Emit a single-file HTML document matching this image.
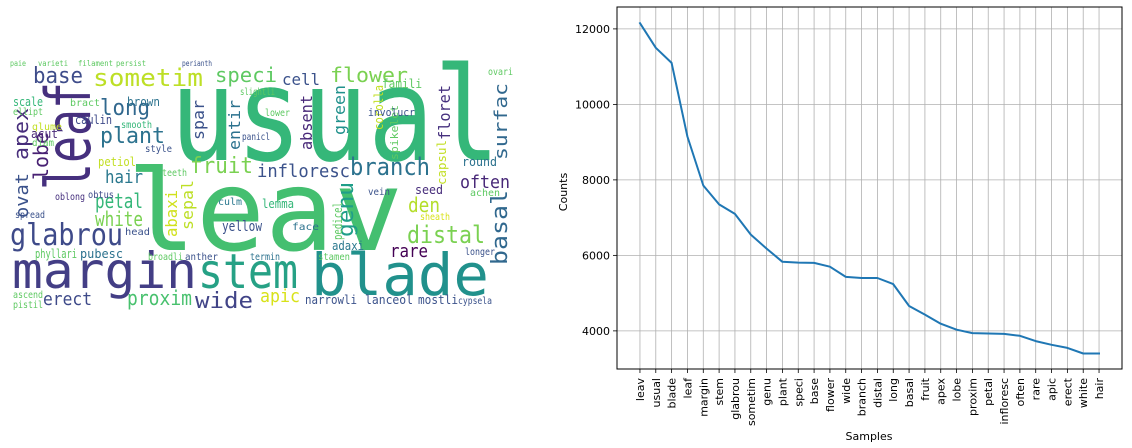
<!DOCTYPE html>
<html><head><meta charset="utf-8"><style>
html,body{margin:0;padding:0;background:#fff;width:1132px;height:448px;overflow:hidden}
svg{display:block}
.wc text{font-family:"DejaVu Sans Mono","Liberation Mono",monospace}
.ax text{font-family:"DejaVu Sans","Liberation Sans",sans-serif;font-size:11px;fill:#000}
</style></head><body>
<svg id="root" width="1132" height="448" viewBox="0 0 1132 448">
<g class="wc" id="wordcloud"></g>
<g class="ax" id="chart"></g>
</svg>
<script>
// ---- line chart data ----
const categories = ["leav","usual","blade","leaf","margin","stem","glabrou","sometim","genu","plant","speci","base","flower","wide","branch","distal","long","basal","fruit","apex","lobe","proxim","petal","infloresc","often","rare","apic","erect","white","hair"];
const counts = [12150,11500,11100,9150,7850,7350,7100,6550,6180,5830,5810,5800,5700,5430,5400,5400,5240,4660,4430,4190,4030,3940,3930,3920,3870,3730,3630,3550,3400,3400];
const yTicks = [4000,6000,8000,10000,12000];
const yTickLabels = ["4000","6000","8000","10000","12000"];

// ---- word cloud data: [word, x, y, fontSize, color, rotated, length] ----
const words = [
["usual",170,160,130,"#35b779",0,330],
["leav",127,250,112,"#44bf70",0,276],
["margin",12,288,50,"#433e85",0,185],
["stem",198,288,48,"#26a185",0,100],
["blade",311,295,58,"#21918c",0,178],
["leaf",90,190,62,"#46307e",1,108],
["glabrou",10,245,30,"#3e4a89",0,113],
["base",33,83,22,"#3e4c8a",0,50],
["sometim",93,86,24,"#bddf26",0,110],
["speci",215,82,20,"#5ec962",0,62],
["cell",282,85,16,"#3b528b",0,38],
["flower",330,82,20,"#7ad151",0,78],
["long",100,115,22,"#31688e",0,50],
["plant",100,143,22,"#2c728e",0,65],
["apex",28,160,20,"#472d7b",1,52],
["lobe",48,180,20,"#482173",1,48],
["ovat",28,218,18,"#3b528b",1,45],
["fruit",190,173,22,"#7ad151",0,63],
["infloresc",257,177,18,"#3b528b",0,93],
["branch",350,175,24,"#2c728e",0,80],
["hair",105,183,18,"#2a788e",0,38],
["petal",95,208,20,"#35b779",0,48],
["white",95,226,20,"#7ad151",0,48],
["distal",407,243,24,"#7ad151",0,78],
["genu",353,237,22,"#1f9e89",1,55],
["basal",507,265,22,"#31688e",1,75],
["surfac",507,160,18,"#31688e",1,77],
["often",460,188,18,"#482878",0,50],
["rare",390,257,18,"#440154",0,38],
["den",408,212,20,"#b5de2b",0,32],
["erect",43,305,18,"#3e4a89",0,49],
["proxim",127,305,20,"#48c16e",0,65],
["wide",195,308,22,"#414487",0,58],
["apic",260,302,18,"#d8e219",0,40],
["abaxi",177,237,16,"#d0e11c",1,47],
["sepal",193,230,16,"#bddf26",1,50],
["spar",204,140,16,"#3b528b",1,40],
["entir",240,150,16,"#2c728e",1,50],
["absent",312,150,16,"#482878",1,55],
["green",345,135,16,"#21918c",1,50],
["floret",450,140,16,"#46307e",1,55],
["capsul",446,185,12,"#c2df23",1,45],
["corolla",383,130,12,"#c2df23",1,45],
["spikelet",398,160,11,"#5ec962",1,55],
["famili",382,88,12,"#5ec962",0,40],
["involucr",368,116,11,"#3b528b",0,47],
["scale",13,106,12,"#35b779",0,30],
["brown",127,106,12,"#2c728e",0,33],
["bract",70,106,10,"#5ec962",0,30],
["ellipt",13,115,10,"#5ec962",0,30],
["caulin",75,124,12,"#3e4a89",0,37],
["glume",32,130,10,"#c2df23",0,30],
["acut",31,138,12,"#482878",0,27],
["smooth",121,128,10,"#35b779",0,31],
["diam",32,146,10,"#5ec962",0,22],
["style",145,152,10,"#3b528b",0,27],
["petiol",98,166,12,"#c2df23",0,38],
["oblong",55,200,10,"#46307e",0,30],
["obtus",88,198,10,"#3e4a89",0,26],
["teeth",162,176,10,"#5ec962",0,25],
["spread",15,218,10,"#3b528b",0,30],
["lemma",262,208,12,"#35b779",0,32],
["yellow",222,231,14,"#3b528b",0,40],
["pedicel",342,240,12,"#5ec962",1,38],
["adaxi",332,250,12,"#2a788e",0,32],
["phyllari",35,258,12,"#5ec962",0,42],
["pubesc",80,258,12,"#2c728e",0,43],
["broadli",148,260,10,"#5ec962",0,35],
["anther",185,260,10,"#3b528b",0,33],
["termin",250,260,10,"#2c728e",0,30],
["stamen",318,260,10,"#5ec962",0,32],
["narrowli",305,304,12,"#3b528b",0,52],
["lanceol",365,304,12,"#3b528b",0,48],
["mostli",418,304,12,"#3b528b",0,40],
["cypsela",458,304,10,"#3b528b",0,34],
["round",462,166,12,"#2c728e",0,35],
["seed",415,194,12,"#472d7b",0,28],
["achen",470,196,10,"#5ec962",0,30],
["sheath",420,220,10,"#d8e219",0,30],
["longer",465,255,10,"#3b528b",0,30],
["ascend",13,298,10,"#5ec962",0,30],
["pistil",13,308,10,"#5ec962",0,30],
["ovari",488,75,10,"#5ec962",0,25],
["slightli",240,95,10,"#5ec962",0,35],
["lower",265,116,10,"#5ec962",0,25],
["panicl",242,140,10,"#3b528b",0,28],
["vein",368,195,10,"#3b528b",0,22],
["culm",218,205,10,"#2a788e",0,24],
["face",292,230,10,"#2c728e",0,27],
["head",125,235,10,"#3b528b",0,25],
["paie",10,66,8,"#5ec962",0,16],
["varieti",38,66,8,"#5ec962",0,30],
["filament",78,66,8,"#5ec962",0,35],
["persist",116,66,8,"#5ec962",0,30],
["perianth",182,66,8,"#3b528b",0,30]
];

const wc = document.getElementById('wordcloud');
const NS = 'http://www.w3.org/2000/svg';
for (const w of words) {
  const t = document.createElementNS(NS, 'text');
  
  
  t.textContent = w[0];
  t.setAttribute('font-size', w[3]);
  t.setAttribute('fill', w[4]);
  t.setAttribute('textLength', w[6]);
  t.setAttribute('lengthAdjust', 'spacingAndGlyphs');
  if (w[5]) t.setAttribute('transform', 'translate(' + w[1] + ',' + w[2] + ') rotate(-90)');
  else { t.setAttribute('x', w[1]); t.setAttribute('y', w[2]); }
  wc.appendChild(t);
}

// ---- chart ----
const ch = document.getElementById('chart');
const L = 617, R = 1122, T = 7, B = 369;
const xMin = -1.45, xMax = categories.length - 1 + 1.45;
const yMin = 2990, yMax = 12580;
const xs = i => L + (i - xMin) / (xMax - xMin) * (R - L);
const ys = v => B - (v - yMin) / (yMax - yMin) * (B - T);
function mk(tag, attrs) {
  const e = document.createElementNS(NS, tag);
  for (const k in attrs) e.setAttribute(k, attrs[k]);
  ch.appendChild(e);
  return e;
}
// grid
categories.forEach((c, i) => {
  const g = mk('line', {x1: xs(i), x2: xs(i), y1: T, y2: B, stroke: '#b0b0b0', 'stroke-width': 0.8});
  
  
});
yTicks.forEach((v, i) => {
  const g = mk('line', {x1: L, x2: R, y1: ys(v), y2: ys(v), stroke: '#b0b0b0', 'stroke-width': 0.8});
  
  
  const tk = mk('line', {x1: L - 4, x2: L, y1: ys(v), y2: ys(v), stroke: '#000', 'stroke-width': 0.8});
  
  
  const tl = mk('text', {x: L - 7, y: ys(v) + 4, 'text-anchor': 'end'});
  
  
  tl.textContent = yTickLabels[i];
});
categories.forEach((c, i) => {
  const tk = mk('line', {x1: xs(i), x2: xs(i), y1: B, y2: B + 4, stroke: '#000', 'stroke-width': 0.8});
  
  
  const tl = mk('text', {transform: 'translate(' + (xs(i) + 4) + ',' + (B + 9) + ') rotate(-90)', 'text-anchor': 'end'});
  
  
  tl.textContent = c;
});
// line
const pts = counts.map((v, i) => xs(i).toFixed(1) + ',' + ys(v).toFixed(1)).join(' ');
const pl = mk('polyline', {points: pts, fill: 'none', stroke: '#1f77b4', 'stroke-width': 2, 'stroke-linejoin': 'round', 'stroke-linecap': 'square'});


// frame
const fr = mk('rect', {x: L, y: T, width: R - L, height: B - T, fill: 'none', stroke: '#000', 'stroke-width': 1});


const yl = mk('text', {transform: 'translate(567,192) rotate(-90)', 'text-anchor': 'middle'});


yl.textContent = 'Counts';
const xl = mk('text', {x: 869, y: 440, 'text-anchor': 'middle'});


xl.textContent = 'Samples';
</script>
</body></html>
